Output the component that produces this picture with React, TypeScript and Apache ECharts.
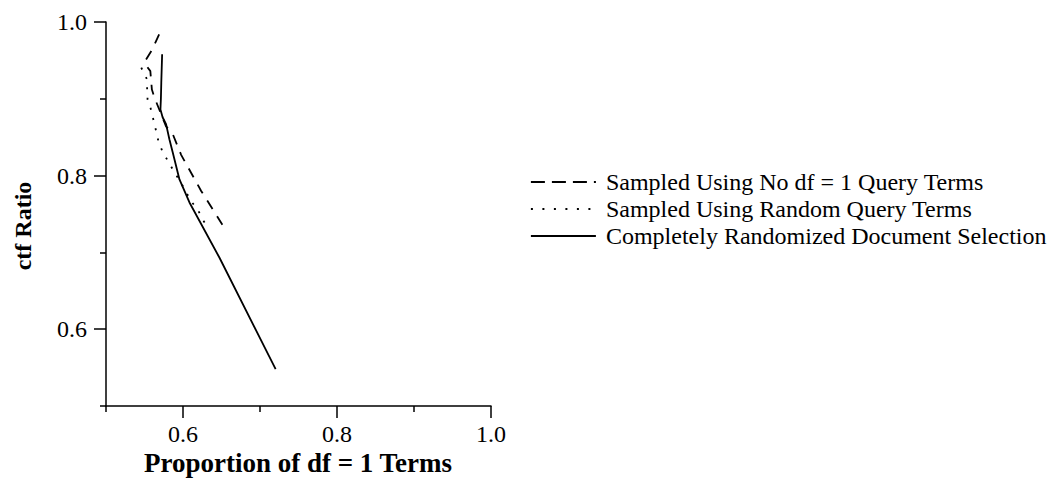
import React, { useEffect, useRef } from "react";
import * as echarts from "echarts";

const seriesNames = [
  "Sampled Using No df = 1 Query Terms",
  "Sampled Using Random Query Terms",
  "Completely Randomized Document Selection",
];

const noDf1X = [0.569, 0.560, 0.552, 0.551, 0.5576, 0.5596, 0.5628, 0.578, 0.5867, 0.5976, 0.6236, 0.6387, 0.655];
const noDf1Y = [0.984, 0.964, 0.951, 0.945, 0.936, 0.912, 0.902, 0.864, 0.854, 0.827, 0.780, 0.756, 0.730];

const randomQX = [0.5458, 0.5534, 0.5534, 0.554, 0.5576, 0.562, 0.5651, 0.568, 0.5737, 0.5815, 0.588, 0.596, 0.6106, 0.6192, 0.6257, 0.6335];
const randomQY = [0.9405, 0.925, 0.910, 0.899, 0.889, 0.871, 0.858, 0.845, 0.8304, 0.8174, 0.8056, 0.793, 0.7665, 0.7557, 0.7426, 0.7305];

const randDocX = [0.5729, 0.5718, 0.5713, 0.5707, 0.5735, 0.578, 0.5824, 0.5867, 0.5954, 0.6084, 0.6474, 0.7203];
const randDocY = [0.958, 0.921, 0.900, 0.886, 0.876, 0.867, 0.847, 0.830, 0.795, 0.765, 0.693, 0.548];

const majorTicks = [0.6, 0.8, 1.0];
const minorTicks = [0.5, 0.7, 0.9];

const FONT = "'Liberation Serif', 'Times New Roman', serif";

const zip = (xs: number[], ys: number[]) => xs.map((x, i) => [x, ys[i]]);

export default function App() {
  const ref = useRef<HTMLDivElement>(null);
  useEffect(() => {
    if (!ref.current) return;
    const chart = echarts.init(ref.current, undefined, { renderer: "svg" });
    const axis = (withLabels: boolean, ticks: number[], len: number, position: string, margin: number) => ({
      type: "value",
      min: 0.5,
      max: 1.0,
      position,
      offset: 0,
      gridIndex: 0,
      axisLine: { show: withLabels, onZero: false, lineStyle: { color: "#000", width: 1.5 } },
      axisTick: {
        show: true,
        customValues: ticks,
        length: len,
        inside: false,
        lineStyle: { color: "#000", width: 1.5 },
      },
      axisLabel: withLabels
        ? {
            show: true,
            customValues: majorTicks,
            formatter: (v: number) => v.toFixed(1),
            color: "#000",
            fontSize: 24,
            fontFamily: FONT,
            margin,
          }
        : { show: false },
      splitLine: { show: false },
    });
    const lineCommon = { color: "#000", width: 1.8 };
    chart.setOption({
      animation: false,
      backgroundColor: "#fff",
      grid: { left: 106, top: 22, width: 385, height: 384, containLabel: false },
      xAxis: [axis(true, majorTicks, 12, "bottom", 16), axis(false, minorTicks, 6, "bottom", 0)],
      yAxis: [axis(true, majorTicks, 12, "left", 19), axis(false, minorTicks, 6, "left", 0)],
      legend: {
        orient: "vertical",
        left: 530,
        top: 170,
        padding: 0,
        itemWidth: 65,
        itemHeight: 14,
        itemGap: 3,
        itemStyle: { opacity: 0 },
        textStyle: { fontSize: 24, fontFamily: FONT, color: "#000", lineHeight: 24, padding: [0, 0, 0, 5] },
        data: [
          { name: seriesNames[0], itemStyle: { opacity: 0 }, lineStyle: { type: [14, 7], color: "#000", width: 1.8 } },
          { name: seriesNames[1], itemStyle: { opacity: 0 }, lineStyle: { type: [2, 9.5], color: "#000", width: 1.8 } },
          { name: seriesNames[2], itemStyle: { opacity: 0 }, lineStyle: { type: "solid", color: "#000", width: 1.8 } },
        ],
      },
      graphic: [
        {
          type: "text",
          x: 23,
          y: 226,
          rotation: Math.PI / 2,
          style: {
            text: "ctf Ratio",
            fontSize: 24,
            fontWeight: "bold",
            fontFamily: FONT,
            fill: "#000",
            align: "center",
            verticalAlign: "middle",
          },
        },
        {
          type: "text",
          x: 298,
          y: 463,
          style: {
            text: "Proportion of df = 1 Terms",
            fontSize: 27,
            fontWeight: "bold",
            fontFamily: FONT,
            fill: "#000",
            align: "center",
            verticalAlign: "middle",
          },
        },
      ],
      series: [
        {
          name: seriesNames[0],
          type: "line",
          symbol: "none",
          data: zip(noDf1X, noDf1Y),
          lineStyle: { ...lineCommon, type: [10, 8.5] },
          itemStyle: { color: "#000" },
        },
        {
          name: seriesNames[1],
          type: "line",
          symbol: "none",
          data: zip(randomQX, randomQY),
          lineStyle: { ...lineCommon, type: [2, 8.5] },
          itemStyle: { color: "#000" },
        },
        {
          name: seriesNames[2],
          type: "line",
          symbol: "none",
          data: zip(randDocX, randDocY),
          lineStyle: { ...lineCommon, type: "solid" },
          itemStyle: { color: "#000" },
        },
      ],
    });
    return () => chart.dispose();
  }, []);
  return (
    <div
      ref={ref}
      style={{ position: "absolute", left: 0, top: 0, width: 1050, height: 487 }}
    />
  );
}
